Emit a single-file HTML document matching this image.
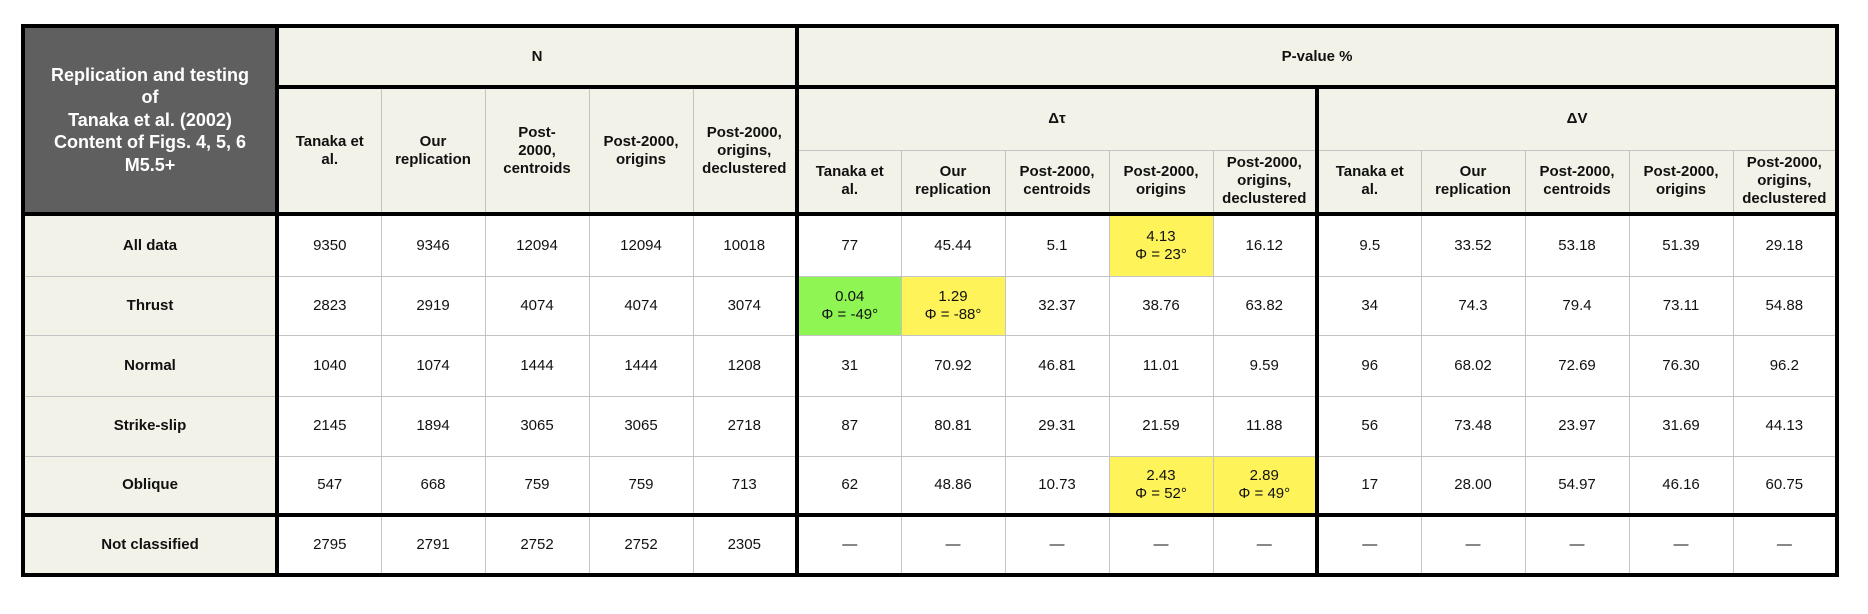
<!DOCTYPE html>
<html><head><meta charset="utf-8"><style>
body{margin:0;background:#fff;width:1868px;height:614px;overflow:hidden;font-family:"Liberation Sans",Arial,sans-serif;}
table{position:absolute;left:21px;top:24px;border-collapse:collapse;table-layout:fixed;width:1813px;border:4px solid #000;}
td{border:1px solid #c4c4c4;text-align:center;vertical-align:middle;font-size:15px;color:#111;padding:0 2px;line-height:18px;}
.h{background:#f3f2e8;font-weight:bold;}
.title{background:#5f5f5f;color:#fff;font-weight:bold;font-size:18px;line-height:22.5px;border-right:4px solid #000;border-bottom:4px solid #000;}
.tl{border-left:4px solid #000;}
.tb{border-bottom:4px solid #000;}
.rl{background:#f3f2e8;font-weight:bold;border-right:4px solid #000;}
.g{background:#8ef552;}
.y{background:#fff35a;}
</style></head><body>
<table>
<colgroup><col style="width:254px"><col span="15" style="width:104px"></colgroup>
<tr style="height:61px">
<td class="title" rowspan="3">Replication and testing<br>of<br>Tanaka et al. (2002)<br>Content of Figs. 4, 5, 6<br>M5.5+</td>
<td class="h tb" colspan="5">N</td>
<td class="h tb tl" colspan="10">P-value %</td>
</tr>
<tr style="height:63px">
<td class="h tb" rowspan="2">Tanaka et<br>al.</td>
<td class="h tb" rowspan="2">Our<br>replication</td>
<td class="h tb" rowspan="2">Post-<br>2000,<br>centroids</td>
<td class="h tb" rowspan="2">Post-2000,<br>origins</td>
<td class="h tb" rowspan="2">Post-2000,<br>origins,<br>declustered</td>
<td class="h tl" colspan="5">Δτ</td>
<td class="h tl" colspan="5">ΔV</td>
</tr>
<tr style="height:64px">
<td class="h tb tl">Tanaka et<br>al.</td><td class="h tb">Our<br>replication</td><td class="h tb">Post-2000,<br>centroids</td><td class="h tb">Post-2000,<br>origins</td><td class="h tb">Post-2000,<br>origins,<br>declustered</td>
<td class="h tb tl">Tanaka et<br>al.</td><td class="h tb">Our<br>replication</td><td class="h tb">Post-2000,<br>centroids</td><td class="h tb">Post-2000,<br>origins</td><td class="h tb">Post-2000,<br>origins,<br>declustered</td>
</tr>
<tr style="height:62px">
<td class="rl">All data</td><td>9350</td><td>9346</td><td>12094</td><td>12094</td><td>10018</td>
<td class="tl">77</td><td>45.44</td><td>5.1</td><td class="y">4.13<br>Φ = 23°</td><td>16.12</td>
<td class="tl">9.5</td><td>33.52</td><td>53.18</td><td>51.39</td><td>29.18</td></tr>
<tr style="height:59px">
<td class="rl">Thrust</td><td>2823</td><td>2919</td><td>4074</td><td>4074</td><td>3074</td>
<td class="tl g">0.04<br>Φ = -49°</td><td class="y">1.29<br>Φ = -88°</td><td>32.37</td><td>38.76</td><td>63.82</td>
<td class="tl">34</td><td>74.3</td><td>79.4</td><td>73.11</td><td>54.88</td></tr>
<tr style="height:61px">
<td class="rl">Normal</td><td>1040</td><td>1074</td><td>1444</td><td>1444</td><td>1208</td>
<td class="tl">31</td><td>70.92</td><td>46.81</td><td>11.01</td><td>9.59</td>
<td class="tl">96</td><td>68.02</td><td>72.69</td><td>76.30</td><td>96.2</td></tr>
<tr style="height:60px">
<td class="rl">Strike-slip</td><td>2145</td><td>1894</td><td>3065</td><td>3065</td><td>2718</td>
<td class="tl">87</td><td>80.81</td><td>29.31</td><td>21.59</td><td>11.88</td>
<td class="tl">56</td><td>73.48</td><td>23.97</td><td>31.69</td><td>44.13</td></tr>
<tr style="height:59px">
<td class="rl tb">Oblique</td><td class="tb">547</td><td class="tb">668</td><td class="tb">759</td><td class="tb">759</td><td class="tb">713</td>
<td class="tl tb">62</td><td class="tb">48.86</td><td class="tb">10.73</td><td class="y tb">2.43<br>Φ = 52°</td><td class="y tb">2.89<br>Φ = 49°</td>
<td class="tl tb">17</td><td class="tb">28.00</td><td class="tb">54.97</td><td class="tb">46.16</td><td class="tb">60.75</td></tr>
<tr style="height:60px">
<td class="rl">Not classified</td><td>2795</td><td>2791</td><td>2752</td><td>2752</td><td>2305</td>
<td class="tl">—</td><td>—</td><td>—</td><td>—</td><td>—</td>
<td class="tl">—</td><td>—</td><td>—</td><td>—</td><td>—</td></tr>
</table>
</body></html>
